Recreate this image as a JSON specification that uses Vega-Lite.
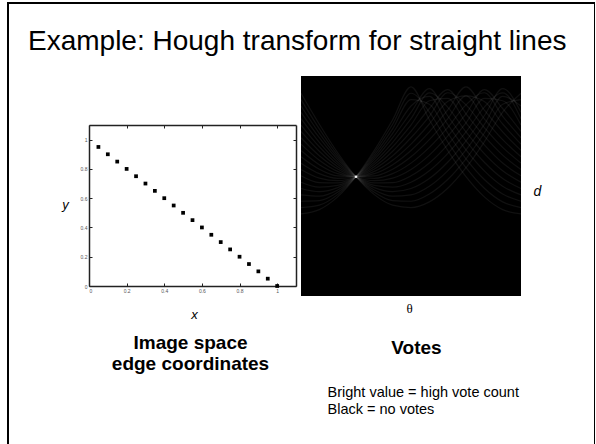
{
  "$schema": "https://vega.github.io/schema/vega-lite/v6.json",
  "width": 587,
  "height": 445,
  "autosize": {"type": "none"},
  "padding": {"left": 8, "top": 3, "right": 0, "bottom": 0},
  "background": "white",
  "title": {
    "text": "Example: Hough transform for straight lines",
    "anchor": "start",
    "frame": "group",
    "font": "Liberation Sans",
    "fontSize": 28,
    "fontWeight": "normal",
    "color": "black",
    "baseline": "alphabetic",
    "dx": 20,
    "offset": -75
  },
  "config": {
    "view": {"stroke": "black", "strokeWidth": 2},
    "axis": {
      "grid": false,
      "titleFont": "Liberation Sans",
      "labelFont": "Liberation Sans",
      "titleColor": "black",
      "titleFontWeight": "normal"
    }
  },
  "datasets": {
    "edges": [
      {"x": 0.05, "y": 0.95}, {"x": 0.1, "y": 0.9}, {"x": 0.15, "y": 0.85}, {"x": 0.2, "y": 0.8},
      {"x": 0.25, "y": 0.75}, {"x": 0.3, "y": 0.7}, {"x": 0.35, "y": 0.65}, {"x": 0.4, "y": 0.6},
      {"x": 0.45, "y": 0.55}, {"x": 0.5, "y": 0.5}, {"x": 0.55, "y": 0.45}, {"x": 0.6, "y": 0.4},
      {"x": 0.65, "y": 0.35}, {"x": 0.7, "y": 0.3}, {"x": 0.75, "y": 0.25}, {"x": 0.8, "y": 0.2},
      {"x": 0.85, "y": 0.15}, {"x": 0.9, "y": 0.1}, {"x": 0.95, "y": 0.05}, {"x": 1.0, "y": 0.0}
    ],
    "peak": [{"theta": 45, "d": 0.707}],
    "hough": [
      {"k":1,"t":0,"d":0.05},{"k":1,"t":15,"d":0.294},{"k":1,"t":30,"d":0.518},{"k":1,"t":45,"d":0.707},{"k":1,"t":60,"d":0.848},{"k":1,"t":75,"d":0.931},{"k":1,"t":90,"d":0.95},{"k":1,"t":105,"d":0.905},{"k":1,"t":120,"d":0.798},{"k":1,"t":135,"d":0.636},{"k":1,"t":150,"d":0.432},{"k":1,"t":165,"d":0.198},{"k":1,"t":180,"d":0.05},
      {"k":2,"t":0,"d":0.1},{"k":2,"t":15,"d":0.33},{"k":2,"t":30,"d":0.537},{"k":2,"t":45,"d":0.707},{"k":2,"t":60,"d":0.829},{"k":2,"t":75,"d":0.895},{"k":2,"t":90,"d":0.9},{"k":2,"t":105,"d":0.843},{"k":2,"t":120,"d":0.729},{"k":2,"t":135,"d":0.566},{"k":2,"t":150,"d":0.363},{"k":2,"t":165,"d":0.136},{"k":2,"t":180,"d":0.1},
      {"k":3,"t":0,"d":0.15},{"k":3,"t":15,"d":0.365},{"k":3,"t":30,"d":0.555},{"k":3,"t":45,"d":0.707},{"k":3,"t":60,"d":0.811},{"k":3,"t":75,"d":0.86},{"k":3,"t":90,"d":0.85},{"k":3,"t":105,"d":0.782},{"k":3,"t":120,"d":0.661},{"k":3,"t":135,"d":0.495},{"k":3,"t":150,"d":0.295},{"k":3,"t":165,"d":0.075},{"k":3,"t":180,"d":0.15},
      {"k":4,"t":0,"d":0.2},{"k":4,"t":15,"d":0.4},{"k":4,"t":30,"d":0.573},{"k":4,"t":45,"d":0.707},{"k":4,"t":60,"d":0.793},{"k":4,"t":75,"d":0.825},{"k":4,"t":90,"d":0.8},{"k":4,"t":105,"d":0.721},{"k":4,"t":120,"d":0.593},{"k":4,"t":135,"d":0.424},{"k":4,"t":150,"d":0.227},{"k":4,"t":165,"d":0.014},{"k":4,"t":180,"d":0.2},
      {"k":5,"t":0,"d":0.25},{"k":5,"t":15,"d":0.436},{"k":5,"t":30,"d":0.592},{"k":5,"t":45,"d":0.707},{"k":5,"t":60,"d":0.775},{"k":5,"t":75,"d":0.789},{"k":5,"t":90,"d":0.75},{"k":5,"t":105,"d":0.66},{"k":5,"t":120,"d":0.525},{"k":5,"t":135,"d":0.354},{"k":5,"t":150,"d":0.159},{"k":5,"t":165,"d":0.047},{"k":5,"t":180,"d":0.25},
      {"k":6,"t":0,"d":0.3},{"k":6,"t":15,"d":0.471},{"k":6,"t":30,"d":0.61},{"k":6,"t":45,"d":0.707},{"k":6,"t":60,"d":0.756},{"k":6,"t":75,"d":0.754},{"k":6,"t":90,"d":0.7},{"k":6,"t":105,"d":0.599},{"k":6,"t":120,"d":0.456},{"k":6,"t":135,"d":0.283},{"k":6,"t":150,"d":0.09},{"k":6,"t":165,"d":0.109},{"k":6,"t":180,"d":0.3},
      {"k":7,"t":0,"d":0.35},{"k":7,"t":15,"d":0.506},{"k":7,"t":30,"d":0.628},{"k":7,"t":45,"d":0.707},{"k":7,"t":60,"d":0.738},{"k":7,"t":75,"d":0.718},{"k":7,"t":90,"d":0.65},{"k":7,"t":105,"d":0.537},{"k":7,"t":120,"d":0.388},{"k":7,"t":135,"d":0.212},{"k":7,"t":150,"d":0.022},{"k":7,"t":165,"d":0.17},{"k":7,"t":180,"d":0.35},
      {"k":8,"t":0,"d":0.4},{"k":8,"t":15,"d":0.542},{"k":8,"t":30,"d":0.646},{"k":8,"t":45,"d":0.707},{"k":8,"t":60,"d":0.72},{"k":8,"t":75,"d":0.683},{"k":8,"t":90,"d":0.6},{"k":8,"t":105,"d":0.476},{"k":8,"t":120,"d":0.32},{"k":8,"t":135,"d":0.141},{"k":8,"t":150,"d":0.046},{"k":8,"t":165,"d":0.231},{"k":8,"t":180,"d":0.4},
      {"k":9,"t":0,"d":0.45},{"k":9,"t":15,"d":0.577},{"k":9,"t":30,"d":0.665},{"k":9,"t":45,"d":0.707},{"k":9,"t":60,"d":0.701},{"k":9,"t":75,"d":0.648},{"k":9,"t":90,"d":0.55},{"k":9,"t":105,"d":0.415},{"k":9,"t":120,"d":0.251},{"k":9,"t":135,"d":0.071},{"k":9,"t":150,"d":0.115},{"k":9,"t":165,"d":0.292},{"k":9,"t":180,"d":0.45},
      {"k":10,"t":0,"d":0.5},{"k":10,"t":15,"d":0.612},{"k":10,"t":30,"d":0.683},{"k":10,"t":45,"d":0.707},{"k":10,"t":60,"d":0.683},{"k":10,"t":75,"d":0.612},{"k":10,"t":90,"d":0.5},{"k":10,"t":105,"d":0.354},{"k":10,"t":120,"d":0.183},{"k":10,"t":135,"d":0.0},{"k":10,"t":150,"d":0.183},{"k":10,"t":165,"d":0.354},{"k":10,"t":180,"d":0.5},
      {"k":11,"t":0,"d":0.55},{"k":11,"t":15,"d":0.648},{"k":11,"t":30,"d":0.701},{"k":11,"t":45,"d":0.707},{"k":11,"t":60,"d":0.665},{"k":11,"t":75,"d":0.577},{"k":11,"t":90,"d":0.45},{"k":11,"t":105,"d":0.292},{"k":11,"t":120,"d":0.115},{"k":11,"t":135,"d":0.071},{"k":11,"t":150,"d":0.251},{"k":11,"t":165,"d":0.415},{"k":11,"t":180,"d":0.55},
      {"k":12,"t":0,"d":0.6},{"k":12,"t":15,"d":0.683},{"k":12,"t":30,"d":0.72},{"k":12,"t":45,"d":0.707},{"k":12,"t":60,"d":0.646},{"k":12,"t":75,"d":0.542},{"k":12,"t":90,"d":0.4},{"k":12,"t":105,"d":0.231},{"k":12,"t":120,"d":0.046},{"k":12,"t":135,"d":0.141},{"k":12,"t":150,"d":0.32},{"k":12,"t":165,"d":0.476},{"k":12,"t":180,"d":0.6},
      {"k":13,"t":0,"d":0.65},{"k":13,"t":15,"d":0.718},{"k":13,"t":30,"d":0.738},{"k":13,"t":45,"d":0.707},{"k":13,"t":60,"d":0.628},{"k":13,"t":75,"d":0.506},{"k":13,"t":90,"d":0.35},{"k":13,"t":105,"d":0.17},{"k":13,"t":120,"d":0.022},{"k":13,"t":135,"d":0.212},{"k":13,"t":150,"d":0.388},{"k":13,"t":165,"d":0.537},{"k":13,"t":180,"d":0.65},
      {"k":14,"t":0,"d":0.7},{"k":14,"t":15,"d":0.754},{"k":14,"t":30,"d":0.756},{"k":14,"t":45,"d":0.707},{"k":14,"t":60,"d":0.61},{"k":14,"t":75,"d":0.471},{"k":14,"t":90,"d":0.3},{"k":14,"t":105,"d":0.109},{"k":14,"t":120,"d":0.09},{"k":14,"t":135,"d":0.283},{"k":14,"t":150,"d":0.456},{"k":14,"t":165,"d":0.599},{"k":14,"t":180,"d":0.7},
      {"k":15,"t":0,"d":0.75},{"k":15,"t":15,"d":0.789},{"k":15,"t":30,"d":0.775},{"k":15,"t":45,"d":0.707},{"k":15,"t":60,"d":0.592},{"k":15,"t":75,"d":0.436},{"k":15,"t":90,"d":0.25},{"k":15,"t":105,"d":0.047},{"k":15,"t":120,"d":0.159},{"k":15,"t":135,"d":0.354},{"k":15,"t":150,"d":0.525},{"k":15,"t":165,"d":0.66},{"k":15,"t":180,"d":0.75},
      {"k":16,"t":0,"d":0.8},{"k":16,"t":15,"d":0.825},{"k":16,"t":30,"d":0.793},{"k":16,"t":45,"d":0.707},{"k":16,"t":60,"d":0.573},{"k":16,"t":75,"d":0.4},{"k":16,"t":90,"d":0.2},{"k":16,"t":105,"d":0.014},{"k":16,"t":120,"d":0.227},{"k":16,"t":135,"d":0.424},{"k":16,"t":150,"d":0.593},{"k":16,"t":165,"d":0.721},{"k":16,"t":180,"d":0.8},
      {"k":17,"t":0,"d":0.85},{"k":17,"t":15,"d":0.86},{"k":17,"t":30,"d":0.811},{"k":17,"t":45,"d":0.707},{"k":17,"t":60,"d":0.555},{"k":17,"t":75,"d":0.365},{"k":17,"t":90,"d":0.15},{"k":17,"t":105,"d":0.075},{"k":17,"t":120,"d":0.295},{"k":17,"t":135,"d":0.495},{"k":17,"t":150,"d":0.661},{"k":17,"t":165,"d":0.782},{"k":17,"t":180,"d":0.85},
      {"k":18,"t":0,"d":0.9},{"k":18,"t":15,"d":0.895},{"k":18,"t":30,"d":0.829},{"k":18,"t":45,"d":0.707},{"k":18,"t":60,"d":0.537},{"k":18,"t":75,"d":0.33},{"k":18,"t":90,"d":0.1},{"k":18,"t":105,"d":0.136},{"k":18,"t":120,"d":0.363},{"k":18,"t":135,"d":0.566},{"k":18,"t":150,"d":0.729},{"k":18,"t":165,"d":0.843},{"k":18,"t":180,"d":0.9},
      {"k":19,"t":0,"d":0.95},{"k":19,"t":15,"d":0.931},{"k":19,"t":30,"d":0.848},{"k":19,"t":45,"d":0.707},{"k":19,"t":60,"d":0.518},{"k":19,"t":75,"d":0.294},{"k":19,"t":90,"d":0.05},{"k":19,"t":105,"d":0.198},{"k":19,"t":120,"d":0.432},{"k":19,"t":135,"d":0.636},{"k":19,"t":150,"d":0.798},{"k":19,"t":165,"d":0.905},{"k":19,"t":180,"d":0.95},
      {"k":20,"t":0,"d":1.0},{"k":20,"t":15,"d":0.966},{"k":20,"t":30,"d":0.866},{"k":20,"t":45,"d":0.707},{"k":20,"t":60,"d":0.5},{"k":20,"t":75,"d":0.259},{"k":20,"t":90,"d":0.0},{"k":20,"t":105,"d":0.259},{"k":20,"t":120,"d":0.5},{"k":20,"t":135,"d":0.707},{"k":20,"t":150,"d":0.866},{"k":20,"t":165,"d":0.966},{"k":20,"t":180,"d":1.0}
    ]
  },
  "resolve": {
    "scale": {"x": "independent", "y": "independent"},
    "axis": {"x": "independent", "y": "independent"}
  },
  "layer": [
    {
      "data": {"name": "edges"},
      "mark": {"type": "point", "shape": "square", "filled": true, "color": "black", "size": 14, "opacity": 1},
      "encoding": {
        "x": {
          "field": "x", "type": "quantitative",
          "scale": {"domain": [0, 1.1], "range": [81, 288], "nice": false, "zero": false},
          "axis": {
            "orient": "bottom", "offset": -162, "values": [0, 0.2, 0.4, 0.6, 0.8, 1], "format": "~g",
            "tickSize": -3, "tickColor": "#222", "labelPadding": 5, "labelFontSize": 5, "labelColor": "#555",
            "domainColor": "#222", "domainWidth": 1.5,
            "title": "x", "titleFontStyle": "italic", "titleFontSize": 13,
            "titleX": 186, "titleY": 32, "titleAlign": "center", "titleBaseline": "alphabetic"
          }
        },
        "y": {
          "field": "y", "type": "quantitative",
          "scale": {"domain": [0, 1.1], "range": [283, 122], "nice": false, "zero": false},
          "axis": {
            "orient": "left", "offset": -81, "values": [0, 0.2, 0.4, 0.6, 0.8, 1], "format": "~g",
            "tickSize": -3, "tickColor": "#222", "labelPadding": 5, "labelFontSize": 5, "labelColor": "#555",
            "domainColor": "#222", "domainWidth": 1.5,
            "title": "y", "titleFontStyle": "italic", "titleFontSize": 13, "titleAngle": 0,
            "titleX": -24, "titleY": 205, "titleAlign": "center", "titleBaseline": "alphabetic"
          }
        }
      }
    },
    {
      "data": {"name": "edges"},
      "mark": {"type": "point", "shape": "square", "filled": true, "color": "black", "size": 14, "opacity": 0},
      "encoding": {
        "x": {
          "field": "x", "type": "quantitative",
          "scale": {"domain": [0, 1.1], "range": [81, 288], "nice": false, "zero": false},
          "axis": {
            "orient": "top", "offset": -122, "values": [0, 0.2, 0.4, 0.6, 0.8, 1],
            "labels": false, "tickSize": -3, "tickColor": "#222",
            "domainColor": "#222", "domainWidth": 1.5,
            "title": ["Image space", "edge coordinates"], "titleFontSize": 19, "titleFontWeight": "bold",
            "titleX": 182, "titleY": 223, "titleAlign": "center", "titleBaseline": "alphabetic", "titleLineHeight": 21
          }
        },
        "y": {
          "field": "y", "type": "quantitative",
          "scale": {"domain": [0, 1.1], "range": [283, 122], "nice": false, "zero": false},
          "axis": {
            "orient": "right", "offset": -299, "values": [0, 0.2, 0.4, 0.6, 0.8, 1],
            "labels": false, "tickSize": -3, "tickColor": "#222",
            "domainColor": "#222", "domainWidth": 1.5, "title": null
          }
        }
      }
    },
    {
      "data": {"name": "peak"},
      "mark": {"type": "rect", "color": "black"},
      "encoding": {
        "x": {
          "datum": 0, "type": "quantitative",
          "scale": {"domain": [0, 180], "range": [293, 513], "nice": false, "zero": false},
          "axis": {
            "orient": "bottom", "offset": -152, "domain": false, "ticks": false, "labels": false,
            "title": "θ", "titleFont": "Liberation Serif", "titleFontSize": 13,
            "titleX": 401, "titleY": 16, "titleAlign": "center", "titleBaseline": "alphabetic"
          }
        },
        "x2": {"datum": 180},
        "y": {
          "datum": -0.086, "type": "quantitative",
          "scale": {"domain": [-0.086, 1.646], "range": [73, 293], "nice": false, "zero": false},
          "axis": {
            "orient": "right", "offset": -74, "domain": false, "ticks": false, "labels": false,
            "title": "d", "titleFontStyle": "italic", "titleFontSize": 14, "titleAngle": 0,
            "titleX": 16, "titleY": 192, "titleAlign": "center", "titleBaseline": "alphabetic"
          }
        },
        "y2": {"datum": 1.646}
      }
    },
    {
      "data": {"name": "hough"},
      "mark": {"type": "line", "stroke": "white", "strokeOpacity": 0.065, "strokeWidth": 1.2, "interpolate": "monotone"},
      "encoding": {
        "x": {
          "field": "t", "type": "quantitative",
          "scale": {"domain": [0, 180], "range": [293, 513], "nice": false, "zero": false},
          "axis": {
            "orient": "bottom", "offset": -152, "domain": false, "ticks": false, "labels": false,
            "title": "Votes", "titleFontSize": 19, "titleFontWeight": "bold",
            "titleX": 408, "titleY": 57, "titleAlign": "center", "titleBaseline": "alphabetic"
          }
        },
        "y": {
          "field": "d", "type": "quantitative",
          "scale": {"domain": [-0.086, 1.646], "range": [73, 293], "nice": false, "zero": false},
          "axis": null
        },
        "detail": {"field": "k", "type": "nominal"}
      }
    },
    {
      "data": {"name": "peak"},
      "mark": {"type": "point", "filled": true, "color": "white", "size": 6, "opacity": 0.9},
      "encoding": {
        "x": {
          "field": "theta", "type": "quantitative",
          "scale": {"domain": [0, 180], "range": [293, 513], "nice": false, "zero": false},
          "axis": {
            "orient": "bottom", "offset": -152, "domain": false, "ticks": false, "labels": false,
            "title": ["Bright value = high vote count", "Black = no votes"], "titleFontSize": 14.5,
            "titleX": 319, "titleY": 100, "titleAlign": "left", "titleBaseline": "alphabetic", "titleLineHeight": 17
          }
        },
        "y": {
          "field": "d", "type": "quantitative",
          "scale": {"domain": [-0.086, 1.646], "range": [73, 293], "nice": false, "zero": false},
          "axis": null
        }
      }
    }
  ]
}
